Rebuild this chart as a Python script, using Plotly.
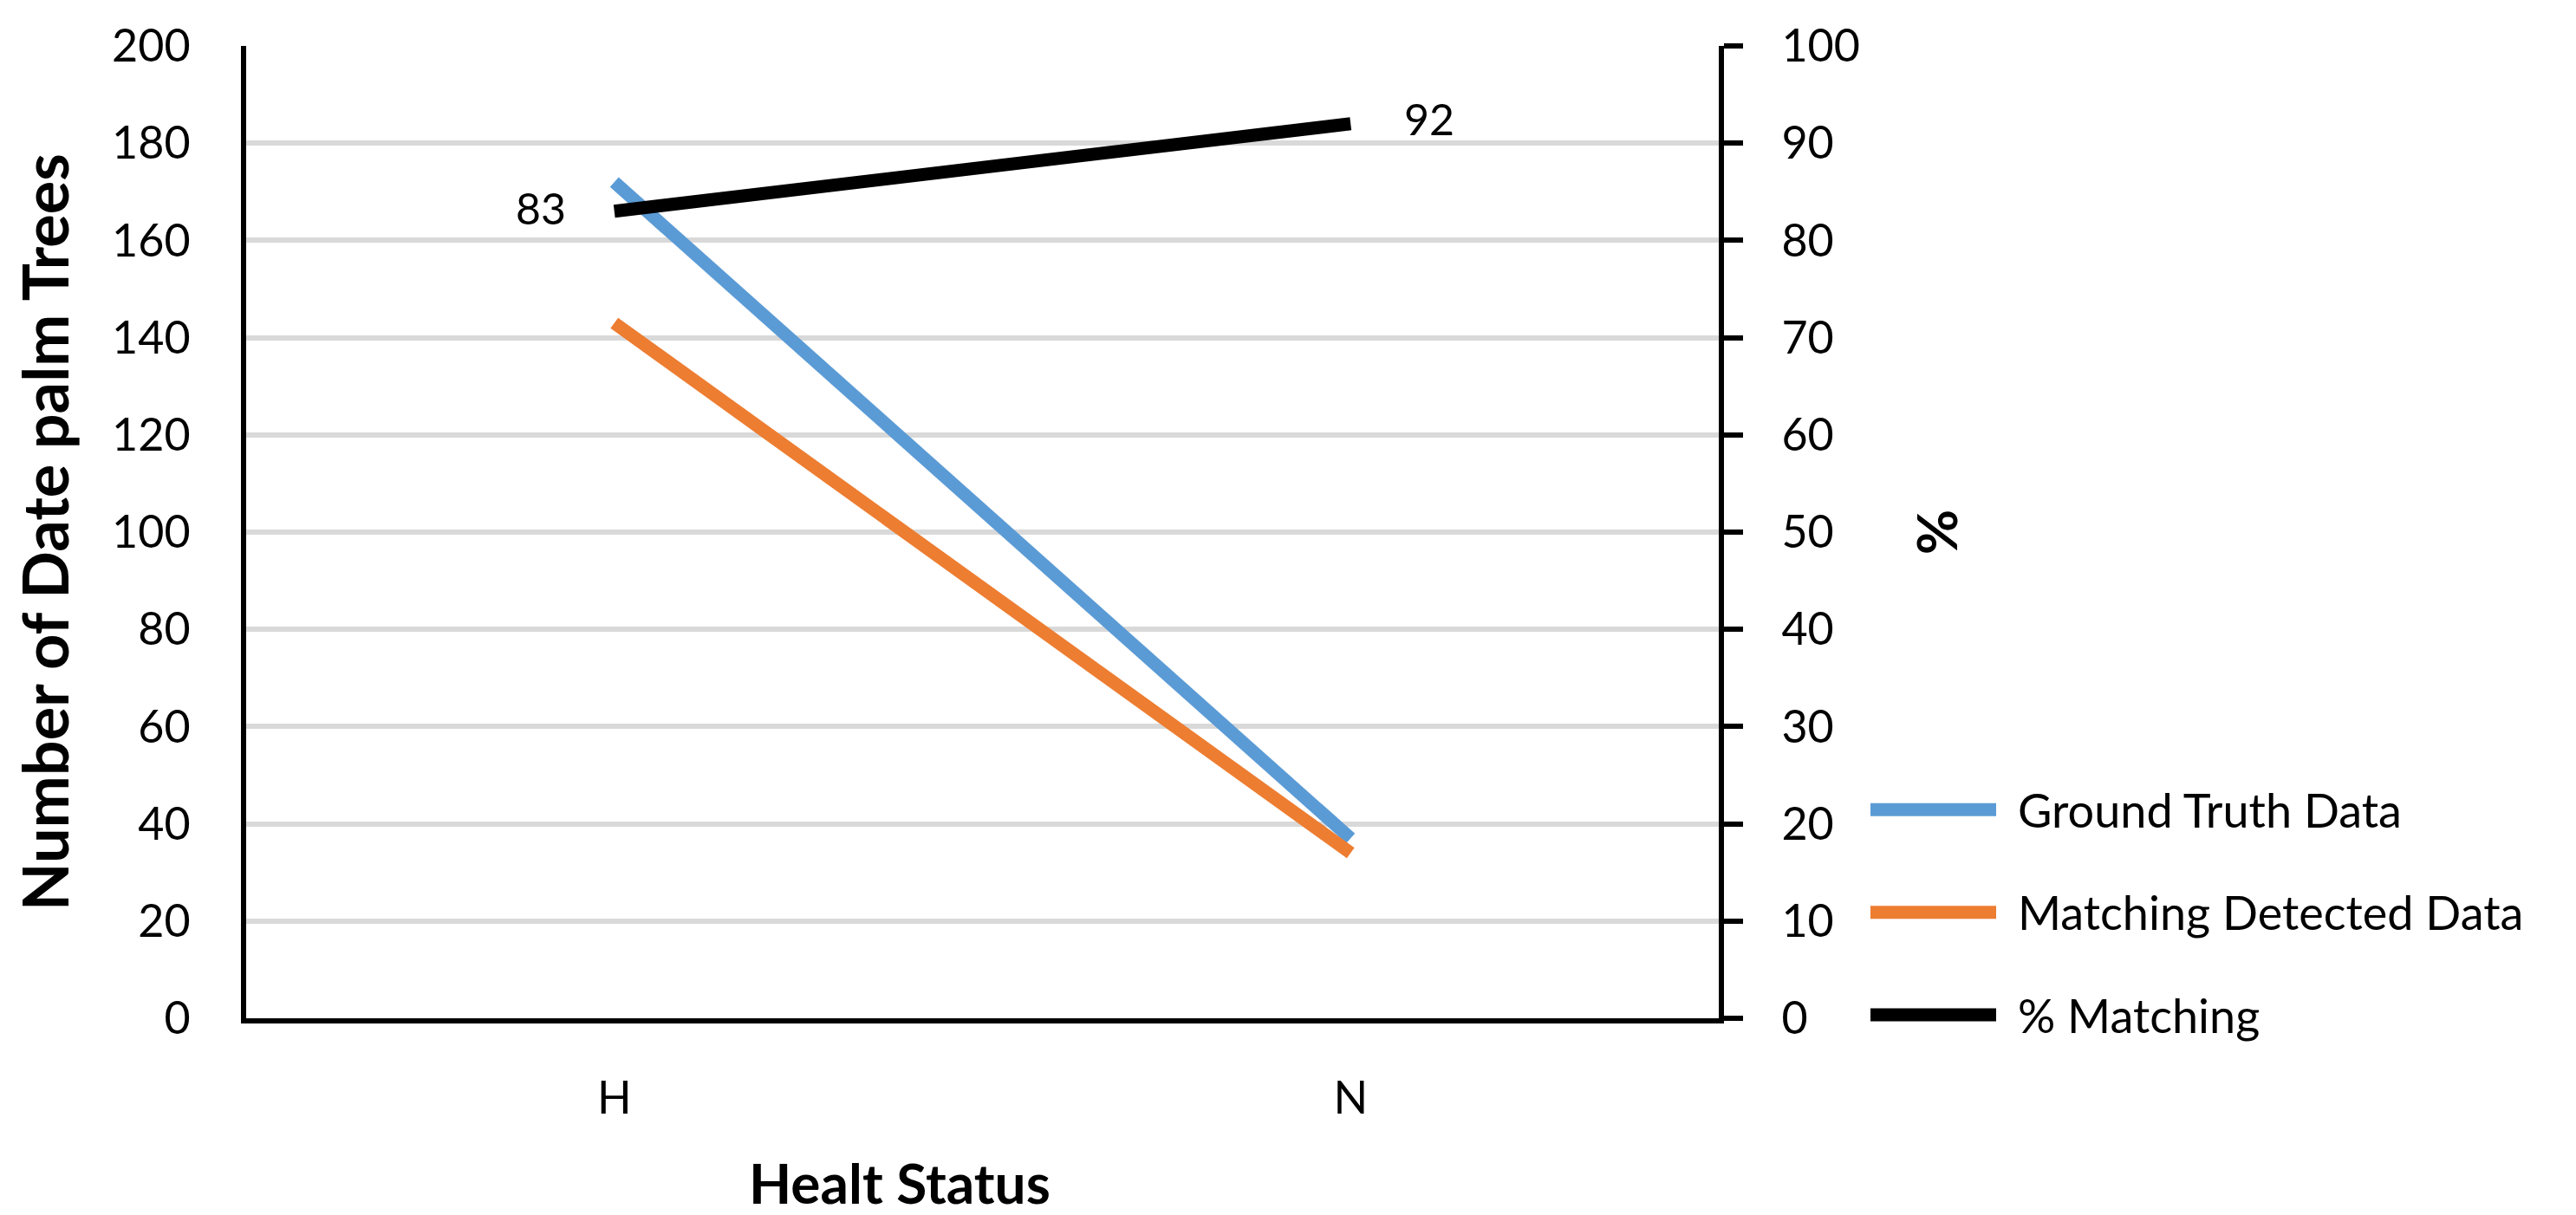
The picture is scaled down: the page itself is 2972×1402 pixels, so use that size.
import plotly.graph_objects as go

categories = ["H", "N"]
ground_truth = [172, 37]
matching_detected = [143, 34]
pct_matching = [83, 92]
left_ticks = list(range(0, 201, 20))
right_ticks = list(range(0, 101, 10))
series_names = ["Ground Truth Data", "Matching Detected Data", "% Matching"]
series_colors = ["#5B9BD5", "#ED7D31", "#000000"]

FONT = "Lato"
W, H = 2972, 1402
BOTTOM_Y = 1167
L, R, T, B = 276, 2972 - 1975, 39, 1402 - BOTTOM_Y
PW, PH = W - L - R, H - T - B

fig = go.Figure()
fig.add_trace(go.Scatter(x=categories, y=ground_truth, mode="lines", name=series_names[0],
                         line=dict(color=series_colors[0], width=15)))
fig.add_trace(go.Scatter(x=categories, y=matching_detected, mode="lines", name=series_names[1],
                         line=dict(color=series_colors[1], width=15)))
fig.add_trace(go.Scatter(x=categories, y=pct_matching, mode="lines", name=series_names[2],
                         line=dict(color=series_colors[2], width=15), yaxis="y2"))

# data labels for % matching
for i, (c, v) in enumerate(zip(categories, pct_matching)):
    fig.add_annotation(x=c, y=v, xref="x", yref="y2", text=str(v), showarrow=False,
                       xanchor="right" if i == 0 else "left",
                       xshift=-54 if i == 0 else 60, yshift=4 if i == 0 else 6,
                       font=dict(family=FONT, size=50, color="black"))

# x axis title
fig.add_annotation(x=(1030 - L) / PW, y=-(1358 - BOTTOM_Y) / PH, xref="paper", yref="paper",
                   text="<b>Healt Status</b>", showarrow=False,
                   xanchor="center", yanchor="middle",
                   font=dict(family=FONT, size=64, color="black"))

# legend (drawn beside the plot, Excel-style long keys)
key_x0, key_x1, text_x = 2150, 2295, 2318
rows_y = [925, 1044, 1163]
for name, col, ry in zip(series_names, series_colors, rows_y):
    yp = (BOTTOM_Y - ry) / PH
    fig.add_shape(type="line", xref="paper", yref="paper",
                  x0=(key_x0 - L) / PW, x1=(key_x1 - L) / PW, y0=yp, y1=yp,
                  line=dict(color=col, width=15))
    fig.add_annotation(x=(text_x - L) / PW, y=yp, xref="paper", yref="paper", text=name,
                       showarrow=False, xanchor="left", yanchor="middle",
                       font=dict(family=FONT, size=54, color="black"))

fig.update_layout(
    width=W, height=H,
    margin=dict(l=L, r=R, t=T, b=B),
    paper_bgcolor="white", plot_bgcolor="white",
    font=dict(family=FONT, size=52, color="black"),
    showlegend=False,
    xaxis=dict(type="category", range=[-0.5, 1.5], showgrid=False, showline=True,
               linecolor="black", linewidth=6, ticks="", ticklabelstandoff=42,
               tickfont=dict(size=52)),
    yaxis=dict(range=[0, 200], tickvals=left_ticks, showgrid=True, gridcolor="#D9D9D9",
               gridwidth=6, showline=True, linecolor="black", linewidth=6, ticks="",
               ticklabelstandoff=48, zeroline=False, tickfont=dict(size=52),
               title=dict(text="<b>Number of Date palm Trees</b>", font=dict(size=72), standoff=28)),
    yaxis2=dict(range=[0, 100], tickvals=right_ticks, overlaying="y", side="right",
                showgrid=False, showline=True, linecolor="black", linewidth=6,
                ticks="outside", ticklen=22, tickwidth=6, tickcolor="black",
                ticklabelstandoff=34, zeroline=False, tickfont=dict(size=52),
                title=dict(text="<b>%</b>", font=dict(size=64), standoff=70)),
)

fig.write_html("out.html")
